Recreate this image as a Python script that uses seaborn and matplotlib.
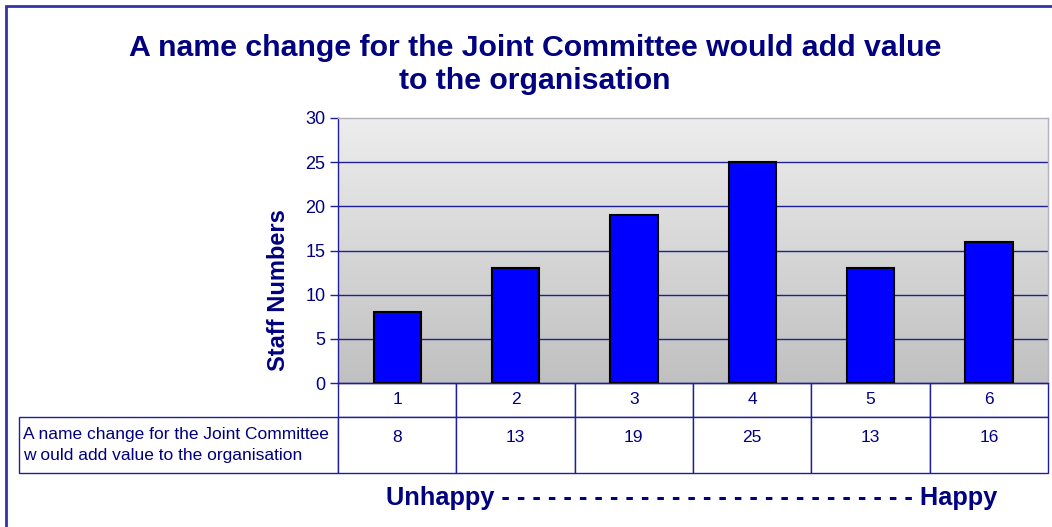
import matplotlib
matplotlib.use("Agg")
import matplotlib.pyplot as plt
import seaborn as sns
import numpy as np
from matplotlib.colors import LinearSegmentedColormap
from matplotlib.patches import Rectangle
from matplotlib.table import Table

categories = ["1", "2", "3", "4", "5", "6"]
values = [8, 13, 19, 25, 13, 16]
row_label = "A name change for the Joint Committee\nw ould add value to the organisation"
title = "A name change for the Joint Committee would add value\nto the organisation"
y_ticks = [0, 5, 10, 15, 20, 25, 30]

NAVY = "#000080"
LINE = "#1f1f99"

sns.set_theme(style="white")
plt.rcParams["font.family"] = ["Liberation Sans", "DejaVu Sans"]

W, H = 1052, 527
fig = plt.figure(figsize=(W / 100, H / 100), dpi=100)
ax = fig.add_axes([338 / W, 1 - 383 / H, 710 / W, 265 / H])

# gradient plot area
grad = LinearSegmentedColormap.from_list("g", ["#c0c0c0", "#ededed"])
ax.imshow(np.linspace(0, 1, 256)[:, None], extent=[-0.5, 5.5, 0, 30], aspect="auto",
          cmap=grad, origin="lower", zorder=0)

sns.barplot(x=categories, y=values, color="#0000ff", edgecolor="black", linewidth=1.5,
            width=0.4, saturation=1, ax=ax, zorder=3)

ax.set_xlim(-0.5, 5.5)
ax.set_ylim(0, 30)
ax.set_yticks(y_ticks)
ax.set_yticklabels([str(t) for t in y_ticks], fontsize=13, color=NAVY)
ax.set_xticks([])
ax.set_xlabel("")
for t in y_ticks[1:-1]:
    ax.axhline(t, color=LINE, lw=1, zorder=1)
ax.tick_params(axis="y", direction="out", length=6, width=1, color=LINE, pad=3, left=True)
ax.set_ylabel("Staff Numbers", fontsize=17, fontweight="bold", color=NAVY)
ax.yaxis.set_label_coords(-0.068, 0.351)

ax.spines["left"].set_color(LINE)
ax.spines["bottom"].set_color(LINE)
ax.spines["top"].set_color("#b0b0c0")
ax.spines["right"].set_color("#b0b0c0")
for s in ax.spines.values():
    s.set_linewidth(1)

# data table under the plot (widths/heights in axes units)
ax_w, ax_h = 710, 265
tbl = Table(ax, bbox=[0, -90 / ax_h, 1, 90 / ax_h])
for i, cat in enumerate(categories):
    tbl.add_cell(0, i, width=1 / 6, height=34 / ax_h, text=cat, loc="center")
    c = tbl.add_cell(1, i, width=1 / 6, height=56 / ax_h, text=str(values[i]), loc="center")
    c.get_text().set_va("bottom")
lab = tbl.add_cell(1, -1, width=319 / ax_w, height=56 / ax_h, text=row_label, loc="left")
lab.PAD = 0.012
tbl.auto_set_font_size(False)
tbl.set_fontsize(12.5)
for cell in tbl.get_celld().values():
    cell.set_edgecolor(LINE)
    cell.set_linewidth(1)
    cell.get_text().set_color(NAVY)
lab.get_text().set_linespacing(1.45)
ax.add_table(tbl)

fig.text(535 / W, 1 - 64.5 / H, title, ha="center", va="center", multialignment="center",
         fontsize=21.8, fontweight="bold", color=NAVY, linespacing=1.25)
fig.text(692 / W, 1 - 498 / H, "Unhappy " + " ".join(["-"] * 27) + " Happy",
         ha="center", va="center", fontsize=18.3, fontweight="bold", color=NAVY)

fig.patches.append(Rectangle((6 / W, -0.1), 1.2, 1.1 - 6 / H, transform=fig.transFigure,
                             fill=False, edgecolor="#3333aa", lw=2))

fig.savefig("out.png", dpi=100)
